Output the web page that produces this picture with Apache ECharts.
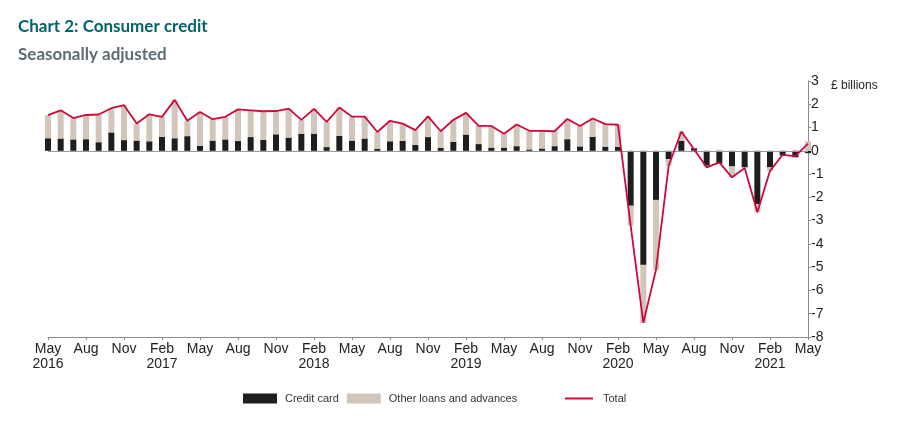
<!DOCTYPE html>
<html>
<head>
<meta charset="utf-8">
<script src="https://cdn.jsdelivr.net/npm/echarts@6/dist/echarts.min.js"></script>
<style>
html,body{margin:0;padding:0;background:#fff;}
#chart{width:907px;height:439px;}
</style>
</head>
<body>
<div id="chart"></div>
<script>
var categories = [
 'May 2016','Jun 2016','Jul 2016','Aug 2016','Sep 2016','Oct 2016','Nov 2016','Dec 2016',
 'Jan 2017','Feb 2017','Mar 2017','Apr 2017','May 2017','Jun 2017','Jul 2017','Aug 2017','Sep 2017','Oct 2017','Nov 2017','Dec 2017',
 'Jan 2018','Feb 2018','Mar 2018','Apr 2018','May 2018','Jun 2018','Jul 2018','Aug 2018','Sep 2018','Oct 2018','Nov 2018','Dec 2018',
 'Jan 2019','Feb 2019','Mar 2019','Apr 2019','May 2019','Jun 2019','Jul 2019','Aug 2019','Sep 2019','Oct 2019','Nov 2019','Dec 2019',
 'Jan 2020','Feb 2020','Mar 2020','Apr 2020','May 2020','Jun 2020','Jul 2020','Aug 2020','Sep 2020','Oct 2020','Nov 2020','Dec 2020',
 'Jan 2021','Feb 2021','Mar 2021','Apr 2021','May 2021'
];
var creditCard = [
 0.54,0.53,0.49,0.50,0.37,0.79,0.46,0.44,
 0.41,0.60,0.54,0.63,0.21,0.44,0.49,0.42,0.59,0.47,0.71,0.57,
 0.73,0.74,0.16,0.64,0.44,0.53,0.09,0.41,0.43,0.26,0.59,0.13,
 0.39,0.70,0.29,0.14,0.14,0.20,0.06,0.10,0.20,0.50,0.19,0.60,
 0.18,0.17,-2.36,-4.90,-2.11,-0.36,0.43,0.11,-0.64,-0.55,-0.67,-0.71,
 -2.29,-0.71,-0.20,-0.28,-0.10
];
var otherLoans = [
 0.99,1.21,0.92,1.04,1.19,1.04,1.50,0.73,
 1.16,0.86,1.65,0.66,1.46,0.92,0.97,1.36,1.15,1.23,1.00,1.24,
 0.60,1.06,1.08,1.22,1.03,0.94,0.72,0.88,0.74,0.63,0.89,0.71,
 0.94,0.93,0.78,0.93,0.59,0.93,0.80,0.76,0.64,0.87,0.88,0.79,
 0.97,0.95,-0.85,-2.49,-3.00,-0.28,0.40,-0.04,-0.07,0.05,-0.47,-0.03,
 -0.35,-0.15,0.03,0.05,0.41
];
var total = [
 1.53,1.74,1.41,1.54,1.56,1.83,1.96,1.17,
 1.57,1.46,2.19,1.29,1.67,1.36,1.46,1.78,1.74,1.70,1.71,1.81,
 1.33,1.80,1.24,1.86,1.47,1.47,0.81,1.29,1.17,0.89,1.48,0.84,
 1.33,1.63,1.07,1.07,0.73,1.13,0.86,0.86,0.84,1.37,1.07,1.39,
 1.15,1.12,-3.21,-7.39,-5.11,-0.64,0.83,0.07,-0.71,-0.50,-1.14,-0.74,
 -2.64,-0.86,-0.17,-0.23,0.31
];
var tickLabels = {
 'May 2016':'May\n2016','Aug 2016':'Aug','Nov 2016':'Nov','Feb 2017':'Feb\n2017',
 'May 2017':'May','Aug 2017':'Aug','Nov 2017':'Nov','Feb 2018':'Feb\n2018',
 'May 2018':'May','Aug 2018':'Aug','Nov 2018':'Nov','Feb 2019':'Feb\n2019',
 'May 2019':'May','Aug 2019':'Aug','Nov 2019':'Nov','Feb 2020':'Feb\n2020',
 'May 2020':'May','Aug 2020':'Aug','Nov 2020':'Nov','Feb 2021':'Feb\n2021',
 'May 2021':'May'
};
var yTicks = { min: -8, max: 3, step: 1 };

var chart = echarts.init(document.getElementById('chart'), null, {renderer:'canvas'});
var axisColor = '#8a8a8a';
var lineColor = '#cc0a3c';
var font = 'Liberation Sans, Arial, sans-serif';
chart.setOption({
  animation: false,
  backgroundColor: '#ffffff',
  graphic: [
    { type:'text', left: 18, top: 18, style:{ text:'Chart 2: Consumer credit', font:'bold 17px Lato, "Open Sans", sans-serif', fill:'#00636d' } },
    { type:'text', left: 18, top: 46, style:{ text:'Seasonally adjusted', font:'bold 17px Lato, "Open Sans", sans-serif', fill:'#5f6b72' } },
    { type:'text', left: 831, top: 80, style:{ text:'£ billions', font:'12px ' + font, fill:'#222' } }
  ],
  grid: { left: 48, right: 99, top: 81, bottom: 102 },
  legend: [
    { data:[{ name:'Credit card', icon:'rect' },{ name:'Other loans and advances', icon:'rect' }], left: 238, top: 388, itemWidth: 34, itemHeight: 10, itemGap: 8,
      textStyle:{ fontFamily: font, fontSize: 11, color:'#333', padding:[0,0,0,3] }, selectedMode:false },
    { data:[{ name:'Total', icon:'rect' }], left: 560, top: 388, itemWidth: 28, itemHeight: 2,
      itemStyle:{ color: lineColor },
      textStyle:{ fontFamily: font, fontSize: 11, color:'#333', padding:[0,0,0,5] }, selectedMode:false }
  ],
  xAxis: {
    type:'category', data: categories, boundaryGap: false,
    axisLine:{ show:true, onZero:false, lineStyle:{ color: axisColor, width:1 } },
    axisTick:{ show:true, interval: 2, length: 3, lineStyle:{ color: axisColor } },
    axisLabel:{ interval: 2, fontFamily: font, fontSize: 14, color:'#222', lineHeight: 15, margin: 5,
      formatter: function(v){ return tickLabels[v] || ''; } },
    splitLine:{ show:false }
  },
  yAxis: {
    type:'value', position:'right', min: yTicks.min, max: yTicks.max, interval: yTicks.step,
    axisLine:{ show:true, lineStyle:{ color: axisColor, width:1 } },
    axisTick:{ show:true, length: 3, lineStyle:{ color: axisColor } },
    axisLabel:{ fontFamily: font, fontSize: 14, color:'#222', margin: 3 },
    splitLine:{ show:false }
  },
  series: [
    { name:'Credit card', type:'bar', stack:'cc', data: creditCard, barWidth: 6, clip:false,
      itemStyle:{ color:'#1e1e1e' },
      markLine:{ silent:true, symbol:'none', label:{show:false}, lineStyle:{ color:'#999', width:1, type:'solid' }, data:[{ yAxis:0 }] } },
    { name:'Other loans and advances', type:'bar', stack:'cc', data: otherLoans, barWidth: 6, clip:false,
      itemStyle:{ color:'#d2c6ba' } },
    { name:'Total', type:'line', data: total, symbol:'none', showSymbol:false, clip:false,
      lineStyle:{ color: lineColor, width:1.8 }, itemStyle:{ color: lineColor }, z: 5 }
  ]
});
</script>
</body>
</html>
